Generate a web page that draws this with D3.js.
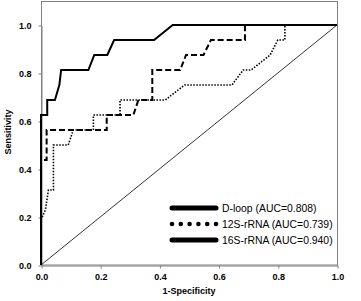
<!DOCTYPE html>
<html>
<head>
<meta charset="utf-8">
<script src="https://cdn.jsdelivr.net/npm/d3@7"></script>
<style>
  body { margin: 0; background: #fff; }
  text { font-family: "Liberation Sans", Arial, sans-serif; }
</style>
</head>
<body>
<div id="chart"></div>
<script>
// ROC points (false positive rate, sensitivity)
const dloopFpr = [0, 0, 0.019, 0.019, 0.222, 0.222, 0.312, 0.329, 0.376, 0.376, 0.47, 0.49, 0.549, 0.574, 0.689, 0.689, 1];
const dloopTpr = [0, 0.4375, 0.4375, 0.5625, 0.5625, 0.625, 0.625, 0.6875, 0.6875, 0.8125, 0.8125, 0.875, 0.875, 0.9375, 0.9375, 1, 1];

const s12Fpr = [0, 0, 0.015, 0.025, 0.042, 0.042, 0.092, 0.109, 0.177, 0.177, 0.267, 0.267, 0.42, 0.485, 0.645, 0.683, 0.71, 0.774, 0.80, 0.824, 0.824, 1];
const s12Tpr = [0, 0.1875, 0.23, 0.3125, 0.3125, 0.5, 0.5, 0.5625, 0.5625, 0.625, 0.625, 0.6875, 0.6875, 0.75, 0.75, 0.8125, 0.8125, 0.875, 0.9375, 0.9375, 1, 1];

const s16Fpr = [0, 0, 0.021, 0.021, 0.047, 0.062, 0.068, 0.16, 0.18, 0.224, 0.247, 0.382, 0.445, 1];
const s16Tpr = [0, 0.625, 0.625, 0.6875, 0.6875, 0.75, 0.8125, 0.8125, 0.875, 0.875, 0.9375, 0.9375, 1, 1];

const seriesNames = ["D-loop (AUC=0.808)", "12S-rRNA (AUC=0.739)", "16S-rRNA (AUC=0.940)"];
const tickValues = [0, 0.2, 0.4, 0.6, 0.8, 1.0];

const width = 361, height = 301;
const margin = {top: 25, right: 24, bottom: 36, left: 41};

const svg = d3.select("#chart").append("svg")
    .attr("width", width)
    .attr("height", height);

const x = d3.scaleLinear().domain([0, 1]).range([margin.left, width - margin.right]);
const y = d3.scaleLinear().domain([0, 1]).range([height - margin.bottom, margin.top]);

// plot frame (goes a little above 1.0)
svg.append("rect")
    .attr("x", x(0) + 0.5)
    .attr("y", 1.5)
    .attr("width", x(1) - x(0))
    .attr("height", y(0) - 1.5)
    .attr("fill", "none")
    .attr("stroke", "#808080")
    .attr("stroke-width", 1);

const xAxis = d3.axisBottom(x).tickValues(tickValues).tickFormat(d3.format(".1f")).tickSize(3).tickSizeOuter(0);
const yAxis = d3.axisLeft(y).tickValues(tickValues).tickFormat(d3.format(".1f")).tickSize(3).tickSizeOuter(0);

const gx = svg.append("g")
    .attr("transform", "translate(0.5," + (y(0) + 0.5) + ")")
    .call(xAxis);
const gy = svg.append("g")
    .attr("transform", "translate(" + (x(0) + 0.5) + ",0.5)")
    .call(yAxis);

[gx, gy].forEach(g => {
    g.select(".domain").attr("stroke", "#808080");
    g.selectAll(".tick line").attr("stroke", "#808080");
    g.selectAll(".tick text")
        .attr("fill", "#000")
        .style("font-size", "9px")
        .style("font-weight", "bold")
        .style("font-family", "'Liberation Sans', Arial, sans-serif");
});
gx.selectAll(".tick text").attr("dy", null).attr("y", 14);
gy.selectAll(".tick text").attr("x", -10).attr("dy", "0.35em");

// reference diagonal
svg.append("line")
    .attr("x1", x(0)).attr("y1", y(0))
    .attr("x2", x(1)).attr("y2", y(1))
    .attr("stroke", "#000")
    .attr("stroke-width", 0.8);

const line = d3.line()
    .x(d => x(d[0]))
    .y(d => y(d[1]));

const zip = (a, b) => a.map((v, i) => [v, b[i]]);

svg.append("path")
    .datum(zip(s12Fpr, s12Tpr))
    .attr("d", line)
    .attr("fill", "none")
    .attr("stroke", "#000")
    .attr("stroke-width", 1.6)
    .attr("stroke-dasharray", "1.5,1.5");

svg.append("path")
    .datum(zip(dloopFpr, dloopTpr))
    .attr("d", line)
    .attr("fill", "none")
    .attr("stroke", "#000")
    .attr("stroke-width", 2)
    .attr("stroke-dasharray", "6,3");

svg.append("path")
    .datum(zip(s16Fpr, s16Tpr))
    .attr("d", line)
    .attr("fill", "none")
    .attr("stroke", "#000")
    .attr("stroke-width", 2);

// legend
const legend = svg.append("g");
const legY = [208, 224, 240];
const lx0 = 172, lx1 = 216;

[0, 2].forEach(i => {
    legend.append("line")
        .attr("x1", lx0).attr("x2", lx1)
        .attr("y1", legY[i]).attr("y2", legY[i])
        .attr("stroke", "#000")
        .attr("stroke-width", 5)
        .attr("stroke-linecap", "round");
});
d3.range(6).forEach(k => {
    legend.append("circle")
        .attr("cx", lx0 + k * (lx1 - lx0) / 5)
        .attr("cy", legY[1])
        .attr("r", 2.3)
        .attr("fill", "#000");
});
seriesNames.forEach((name, i) => {
    legend.append("text")
        .attr("x", 222)
        .attr("y", legY[i])
        .attr("dy", "0.35em")
        .style("font-size", "10.4px")
        .text(name);
});

// axis titles
svg.append("text")
    .attr("x", (x(0) + x(1)) / 2)
    .attr("y", 294)
    .attr("text-anchor", "middle")
    .style("font-size", "9px")
    .style("font-weight", "bold")
    .text("1-Specificity");

svg.append("text")
    .attr("transform", "translate(11,132) rotate(-90)")
    .attr("text-anchor", "middle")
    .style("font-size", "9px")
    .style("font-weight", "bold")
    .text("Sensitivity");
</script>
</body>
</html>
